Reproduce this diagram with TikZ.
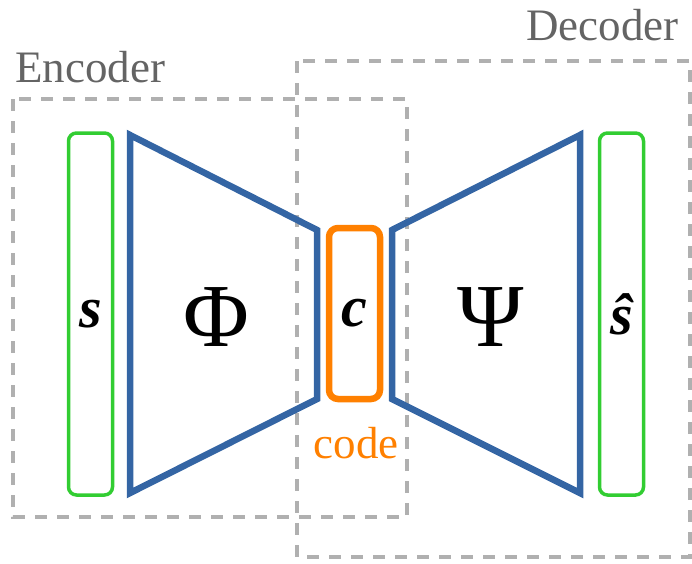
\documentclass[tikz,border=0pt]{standalone}
\usepackage{fontspec}
\setmainfont{Liberation Serif}
\definecolor{cgreen}{RGB}{50,205,50}
\definecolor{cblue}{RGB}{52,101,164}
\definecolor{corange}{RGB}{255,128,0}
\definecolor{cdash}{RGB}{176,176,176}
\definecolor{ctext}{RGB}{100,100,100}
\begin{document}
\begin{tikzpicture}[x=1pt,y=-1pt,
  groupbox/.style={draw=cdash,line width=4pt,dash pattern=on 12pt off 10pt},
  grouplabel/.style={text=ctext,font=\fontsize{45}{50}\selectfont,inner sep=0pt},
  signal/.style={draw=cgreen,line width=3.5pt,rounded corners=8pt,minimum width=44pt,minimum height=362pt,inner sep=0pt,font=\fontsize{58}{62}\selectfont\bfseries\itshape},
  codebox/.style={draw=corange,line width=6.5pt,rounded corners=9pt,minimum width=51pt,minimum height=171pt,inner sep=0pt,font=\fontsize{58}{62}\selectfont\bfseries\itshape},
  net/.style={draw=cblue,line width=6.5pt,line join=miter},
  netlabel/.style={font=\fontsize{90}{96}\selectfont,inner sep=0pt},
]
\useasboundingbox (0,0) rectangle (692,563);
% group boxes
\draw[groupbox] (13,99) rectangle (407,517);
\draw[groupbox] (297,61) rectangle (690,557);
\node[grouplabel,anchor=base west] (enc) at (15,82) {Encoder};
\node[grouplabel,anchor=base west] (dec) at (526,40) {Decoder};
% signals
\node[signal] (s) at (90.5,314) {s};
\node[signal] (shat) at (621.5,314) {ŝ};
\node[codebox] (c) at (354.5,313.5) {c};
\node[text=corange,font=\fontsize{45}{50}\selectfont,inner sep=0pt,anchor=base] (code) at (356,458) {code};
% encoder / decoder networks
\coordinate (p1) at (130,135);
\coordinate (p2) at (317,230);
\coordinate (p3) at (317,399);
\coordinate (p4) at (130,493);
\draw[net] (p1) -- (p2) -- (p3) -- (p4) -- cycle;
\coordinate (q1) at (392,230);
\coordinate (q2) at (580,135);
\coordinate (q3) at (580,493);
\coordinate (q4) at (392,399);
\draw[net] (q1) -- (q2) -- (q3) -- (q4) -- cycle;
\node[netlabel] (phi) at (216,317) {Φ};
\node[netlabel] (psi) at (491,317) {Ψ};
\end{tikzpicture}
\end{document}
